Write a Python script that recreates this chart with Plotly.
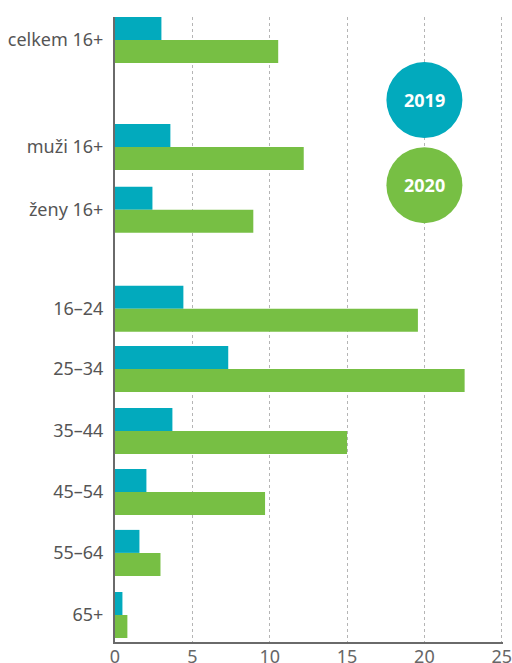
import plotly.graph_objects as go

categories = ["celkem 16+", "muži 16+", "ženy 16+", "16–24", "25–34", "35–44", "45–54", "55–64", "65+"]
values_2019 = [3.0, 3.58, 2.42, 4.42, 7.32, 3.71, 2.03, 1.58, 0.48]
values_2020 = [10.55, 12.2, 8.94, 19.58, 22.6, 15.0, 9.7, 2.94, 0.8]
series_names = ["2019", "2020"]
x_ticks = [0, 5, 10, 15, 20, 25]

# layout: vertical slot positions (gaps between groups)
slot_pos = [0, 1.74, 2.76, 4.37, 5.35, 6.36, 7.35, 8.34, 9.35]
bar_w = 0.374

TEAL = "#02AABD"
GREEN = "#77BF44"
FONT = "Noto Sans"

fig = go.Figure()
fig.add_trace(go.Bar(x=values_2019, y=slot_pos, orientation="h", name=series_names[0],
                     marker=dict(color=TEAL, line=dict(width=0)), width=bar_w, offset=-bar_w))
fig.add_trace(go.Bar(x=values_2020, y=slot_pos, orientation="h", name=series_names[1],
                     marker=dict(color=GREEN, line=dict(width=0)), width=bar_w, offset=0))

# legend circles
leg_y = [0.976, 2.36]
for name, col, yy in zip(series_names, [TEAL, GREEN], leg_y):
    fig.add_shape(type="circle", xref="x", yref="y", xsizemode="pixel", ysizemode="pixel",
                  xanchor=20, yanchor=yy, x0=-38, x1=38, y0=-38, y1=38,
                  fillcolor=col, line=dict(width=0), layer="above")
    fig.add_annotation(x=20, y=yy, xref="x", yref="y", text="<b>%s</b>" % name, showarrow=False,
                       font=dict(family=FONT, size=18, color="white"))

fig.update_layout(
    width=512, height=663,
    margin=dict(l=115, r=9, t=17, b=21, autoexpand=False),
    paper_bgcolor="white", plot_bgcolor="white",
    showlegend=False, barmode="group",
    font=dict(family=FONT, size=18, color="#555555"),
    xaxis=dict(range=[0, 25.08], tickvals=x_ticks, showgrid=True, gridcolor="#b5b5b5",
               griddash="3px,3px", gridwidth=1, zeroline=False, showline=True,
               linecolor="#6a6a6a", linewidth=2, ticks="", fixedrange=True,
               ticklabeloverflow="allow", ticklabelstandoff=-3,
               tickfont=dict(family=FONT, size=18, color="#666666")),
    yaxis=dict(range=[9.789, -0.374], tickvals=slot_pos, ticktext=categories,
               showgrid=False, zeroline=False, showline=True, linecolor="#6a6a6a",
               linewidth=2, ticks="", ticklabelstandoff=6, fixedrange=True,
               tickfont=dict(family=FONT, size=18, color="#555555")),
)

fig.write_html("out.html", config={"displayModeBar": False, "staticPlot": True},
               post_script="document.body.style.margin='0';document.body.style.overflow='hidden';")
